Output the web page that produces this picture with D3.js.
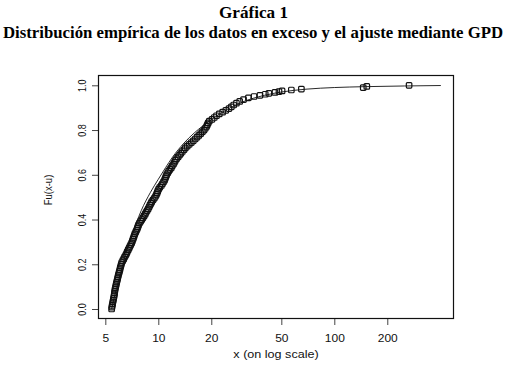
<!DOCTYPE html>
<html>
<head>
<meta charset="utf-8">
<script src="https://cdn.jsdelivr.net/npm/d3@7/dist/d3.min.js"></script>
<style>
  body { margin: 0; background: #fff; }
  svg { display: block; }
</style>
</head>
<body>
<svg id="chart" width="507" height="374"></svg>
<script>
// ---- data ----
const titleLine1 = "Gráfica 1";
const titleLine2 = "Distribución empírica de los datos en exceso y el ajuste mediante GPD";
const xLabel = "x (on log scale)";
const yLabel = "Fu(x-u)";

const xTicks = [5, 10, 20, 50, 100, 200];
const xTickLabels = ["5", "10", "20", "50", "100", "200"];
const yTicks = [0.0, 0.2, 0.4, 0.6, 0.8, 1.0];
const yTickLabels = ["0.0", "0.2", "0.4", "0.6", "0.8", "1.0"];

// empirical distribution of the excesses (points)
const excessX = [
  5.43, 5.45, 5.47, 5.50, 5.52, 5.55, 5.57, 5.60, 5.62, 5.64, 5.66, 5.68, 5.71, 5.74, 5.77, 5.80,
  5.84, 5.87, 5.90, 5.93, 5.97, 6.01, 6.05, 6.08, 6.12, 6.16, 6.20, 6.28, 6.36, 6.43, 6.52, 6.60,
  6.66, 6.74, 6.82, 6.90, 6.98, 7.06, 7.12, 7.18, 7.24, 7.30, 7.36, 7.44, 7.52, 7.60, 7.66, 7.72,
  7.82, 7.94, 8.06, 8.18, 8.30, 8.42, 8.52, 8.64, 8.76, 8.86, 8.96, 9.08, 9.18, 9.34, 9.50, 9.64,
  9.76, 9.86, 9.94, 10.05, 10.2, 10.4, 10.55, 10.7, 10.85, 10.95, 11.05, 11.15, 11.3, 11.45, 11.65, 11.85,
  12.0, 12.2, 12.35, 12.5, 12.7, 12.95, 13.2, 13.45, 13.7, 14.0, 14.25, 14.6, 15.0, 15.4, 15.8, 16.2,
  16.6, 17.0, 17.4, 17.8, 18.2, 18.5, 18.8, 19.0, 19.2, 19.5, 20.2, 20.8, 21.4, 22.2, 23.2, 24.2,
  25.2, 26.0, 26.8, 27.8, 29.0, 30.5, 32.5, 35.0, 37.8, 40.5, 42.5, 46.0, 48.5, 50.5, 57.0, 65.0,
  146, 153, 266
];
const empiricalF = [
  0.000, 0.008, 0.016, 0.024, 0.032, 0.040, 0.048, 0.056, 0.064, 0.072, 0.080, 0.088, 0.096, 0.104, 0.112, 0.120,
  0.128, 0.136, 0.144, 0.152, 0.160, 0.168, 0.176, 0.184, 0.192, 0.200, 0.208, 0.216, 0.224, 0.232, 0.240, 0.248,
  0.256, 0.264, 0.272, 0.280, 0.288, 0.296, 0.304, 0.312, 0.320, 0.328, 0.336, 0.344, 0.352, 0.360, 0.368, 0.376,
  0.384, 0.392, 0.400, 0.408, 0.416, 0.424, 0.432, 0.440, 0.448, 0.456, 0.464, 0.472, 0.480, 0.488, 0.496, 0.504,
  0.512, 0.520, 0.528, 0.536, 0.544, 0.552, 0.560, 0.568, 0.576, 0.584, 0.592, 0.600, 0.608, 0.616, 0.624, 0.632,
  0.640, 0.648, 0.656, 0.664, 0.672, 0.680, 0.688, 0.696, 0.704, 0.712, 0.720, 0.728, 0.736, 0.744, 0.752, 0.760,
  0.768, 0.776, 0.784, 0.792, 0.800, 0.808, 0.816, 0.824, 0.832, 0.840, 0.848, 0.856, 0.864, 0.872, 0.880, 0.888,
  0.896, 0.904, 0.912, 0.920, 0.928, 0.936, 0.944, 0.950, 0.955, 0.960, 0.964, 0.968, 0.972, 0.975, 0.979, 0.983,
  0.990, 0.995, 1.000
];

// fitted GPD curve
const curveX = [5.43, 5.7, 6, 6.5, 7, 7.5, 8, 9, 10, 11, 12, 14, 16, 18, 20, 25, 30, 40, 50, 70, 100, 150, 250, 403];
const curveF = [0, 0.07, 0.14, 0.24, 0.32, 0.385, 0.44, 0.52, 0.58, 0.632, 0.677, 0.742, 0.787, 0.82, 0.847, 0.895, 0.925, 0.955, 0.97, 0.983, 0.990, 0.994, 0.997, 0.999];

// ---- layout ----
const plot = { left: 99, right: 453, top: 76, bottom: 318 };
const svg = d3.select("#chart");
const sx = 1.2; // horizontal stretch of the lettering in the reference

const x = d3.scaleLog().domain([4.603, 472.5]).range([plot.left, plot.right]);
const y = d3.scaleLinear().domain([-0.0402, 1.0416]).range([plot.bottom, plot.top]);

// titles
svg.append("text")
  .attr("x", 253.5).attr("y", 18)
  .attr("text-anchor", "middle")
  .attr("font-family", "'Liberation Serif', 'Times New Roman', serif")
  .attr("font-weight", "bold").attr("font-size", 16)
  .attr("textLength", 69).attr("lengthAdjust", "spacingAndGlyphs")
  .text(titleLine1);
svg.append("text")
  .attr("x", 253).attr("y", 38)
  .attr("text-anchor", "middle")
  .attr("font-family", "'Liberation Serif', 'Times New Roman', serif")
  .attr("font-weight", "bold").attr("font-size", 16)
  .attr("textLength", 500).attr("lengthAdjust", "spacingAndGlyphs")
  .text(titleLine2);

// axes
const xAxis = d3.axisBottom(x).tickValues(xTicks).tickSize(7).tickFormat((d, i) => xTickLabels[i]);
const gx = svg.append("g").attr("transform", `translate(0,${plot.bottom})`).call(xAxis);
gx.select(".domain").attr("d", `M${x(xTicks[0])},0.5H${x(xTicks[xTicks.length-1])}`).attr("stroke", "#222");
gx.selectAll(".tick line").attr("stroke", "#444");
gx.selectAll(".tick text").remove();
gx.selectAll(".tick").append("text")
  .attr("transform", `translate(0,24) scale(${sx},1)`)
  .attr("text-anchor", "middle")
  .attr("font-family", "'Liberation Sans', Arial, sans-serif")
  .attr("font-size", 10).attr("fill", "#111")
  .text((d, i) => xTickLabels[i]);

const yAxis = d3.axisLeft(y).tickValues(yTicks).tickSize(7).tickFormat((d, i) => yTickLabels[i]);
const gy = svg.append("g").attr("transform", `translate(${plot.left},0)`).call(yAxis);
gy.select(".domain").attr("d", `M-0.5,${y(yTicks[0])}V${y(yTicks[yTicks.length-1])}`).attr("stroke", "#222");
gy.selectAll(".tick line").attr("stroke", "#444");
gy.selectAll(".tick text").remove();
gy.selectAll(".tick").append("text")
  .attr("transform", `translate(-13,0) scale(${sx},1) rotate(-90)`)
  .attr("text-anchor", "middle")
  .attr("font-family", "'Liberation Sans', Arial, sans-serif")
  .attr("font-size", 9).attr("fill", "#111")
  .text((d, i) => yTickLabels[i]);

// axis titles
svg.append("text")
  .attr("transform", `translate(${(plot.left + plot.right) / 2},358) scale(${sx},1)`)
  .attr("text-anchor", "middle")
  .attr("font-family", "'Liberation Sans', Arial, sans-serif")
  .attr("font-size", 10.5).attr("fill", "#111")
  .text(xLabel);
svg.append("text")
  .attr("transform", `translate(52,190) scale(${sx},1) rotate(-90)`)
  .attr("text-anchor", "middle")
  .attr("font-family", "'Liberation Sans', Arial, sans-serif")
  .attr("font-size", 9.5).attr("fill", "#111")
  .text(yLabel);

// plot box
svg.append("rect")
  .attr("x", plot.left - 0.5).attr("y", plot.top - 0.5)
  .attr("width", plot.right - plot.left + 1).attr("height", plot.bottom - plot.top + 1)
  .attr("fill", "none").attr("stroke", "#111").attr("stroke-width", 1.2);

// fitted curve
const curveData = curveX.map((v, i) => [v, curveF[i]]);
svg.append("path")
  .datum(curveData)
  .attr("fill", "none").attr("stroke", "#111").attr("stroke-width", 0.9)
  .attr("d", d3.line().x(d => x(d[0])).y(d => y(d[1])).curve(d3.curveMonotoneX));

// empirical points
const pts = excessX.map((v, i) => [v, empiricalF[i]]);
const s = 5.5;
svg.append("g").selectAll("rect").data(pts).join("rect")
  .attr("x", d => x(d[0]) - s / 2).attr("y", d => y(d[1]) - s / 2)
  .attr("width", s).attr("height", s).attr("rx", 1)
  .attr("fill", "none").attr("stroke", "#111").attr("stroke-width", 1.2);
</script>
</body>
</html>
